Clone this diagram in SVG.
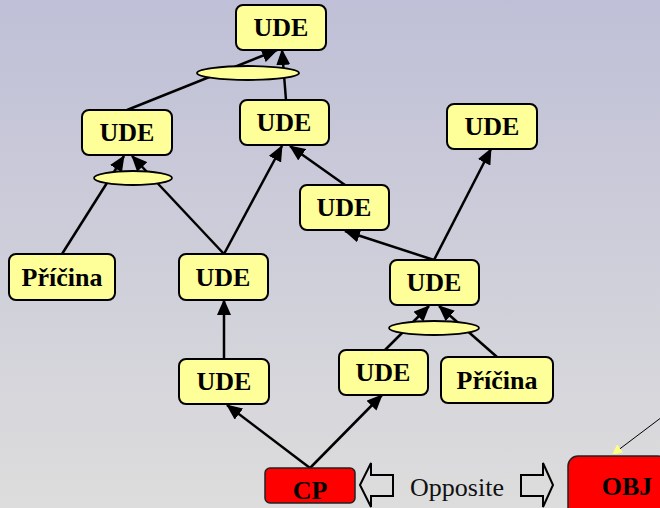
<svg xmlns="http://www.w3.org/2000/svg" width="660" height="508" viewBox="0 0 660 508">
<defs>
<linearGradient id="bg" x1="0" y1="0" x2="0" y2="1">
<stop offset="0" stop-color="#bfbfd7"/>
<stop offset="1" stop-color="#dddddd"/>
</linearGradient>
<marker id="ah" viewBox="0 0 16 14" markerWidth="16" markerHeight="14" refX="15" refY="7" orient="auto" markerUnits="userSpaceOnUse">
<path d="M0,0 L16,7 L0,14 z" fill="#000"/>
</marker>
<marker id="ay" viewBox="0 0 10 10" markerWidth="10" markerHeight="10" refX="9" refY="5" orient="auto" markerUnits="userSpaceOnUse">
<path d="M0,0 L10,5 L0,10 z" fill="#ffff80"/>
</marker>
<style>
.box{fill:#ffff99;stroke:#000;stroke-width:2}
.red{fill:#ff0000;stroke:#222;stroke-width:1.5}
.and{fill:#ffff99;stroke:#000;stroke-width:1.8}
.t{font-family:"Liberation Serif",serif;font-weight:bold;font-size:26px;text-anchor:middle;fill:#000}
.c{stroke:#000;stroke-width:2.5;fill:none;marker-end:url(#ah)}
.ha{fill:none;stroke:#000;stroke-width:2}
</style>
</defs>
<rect x="0" y="0" width="660" height="508" fill="url(#bg)"/>
<g id="connectors">
<line class="c" x1="127" y1="110" x2="277" y2="50"/>
<line class="c" x1="286" y1="100" x2="282" y2="50"/>
<line class="c" x1="62" y1="254" x2="124" y2="156"/>
<line class="c" x1="224" y1="254" x2="132" y2="156"/>
<line class="c" x1="224" y1="254" x2="282" y2="146"/>
<line class="c" x1="345" y1="185" x2="290" y2="146"/>
<line class="c" x1="434" y1="260" x2="345" y2="231"/>
<line class="c" x1="434" y1="260" x2="491" y2="149"/>
<line class="c" x1="385" y1="350" x2="429" y2="306"/>
<line class="c" x1="497" y1="357" x2="439" y2="306"/>
<line class="c" x1="224" y1="359" x2="224" y2="300"/>
<line class="c" x1="310" y1="468" x2="227" y2="405"/>
<line class="c" x1="310" y1="468" x2="382" y2="395"/>
<line x1="662" y1="417" x2="613" y2="454" stroke="#000" stroke-width="1" marker-end="url(#ay)"/>
</g>
<g id="and1"><ellipse class="and" cx="248" cy="73" rx="51" ry="7"/></g>
<g id="and2"><ellipse class="and" cx="133" cy="178" rx="39" ry="7"/></g>
<g id="and3"><ellipse class="and" cx="434" cy="328" rx="45" ry="7"/></g>
<g id="n1"><rect class="box" x="236" y="5" width="90" height="45" rx="7"/><text class="t" x="281" y="36">UDE</text></g>
<g id="n2"><rect class="box" x="82" y="110" width="90" height="45" rx="7"/><text class="t" x="127" y="141">UDE</text></g>
<g id="n3"><rect class="box" x="240" y="100" width="89" height="45" rx="7"/><text class="t" x="284" y="131">UDE</text></g>
<g id="n4"><rect class="box" x="447" y="104" width="90" height="45" rx="7"/><text class="t" x="492" y="135">UDE</text></g>
<g id="n5"><rect class="box" x="300" y="185" width="89" height="45" rx="7"/><text class="t" x="344" y="216">UDE</text></g>
<g id="n6"><rect class="box" x="390" y="260" width="89" height="45" rx="7"/><text class="t" x="434" y="291">UDE</text></g>
<g id="n7"><rect class="box" x="9" y="254" width="106" height="46" rx="7"/><text class="t" x="62" y="286">Příčina</text></g>
<g id="n8"><rect class="box" x="179" y="254" width="89" height="46" rx="7"/><text class="t" x="223" y="286">UDE</text></g>
<g id="n9"><rect class="box" x="179" y="359" width="90" height="45" rx="7"/><text class="t" x="224" y="390">UDE</text></g>
<g id="n10"><rect class="box" x="339" y="350" width="89" height="45" rx="7"/><text class="t" x="383" y="381">UDE</text></g>
<g id="n11"><rect class="box" x="441" y="357" width="112" height="46" rx="7"/><text class="t" x="497" y="389">Příčina</text></g>
<g id="cp"><rect class="red" x="265" y="468" width="90" height="35" rx="5"/><text class="t" x="310" y="499">CP</text></g>
<g id="obj"><rect class="red" x="568" y="456" width="100" height="62" rx="10"/><text class="t" x="627" y="495">OBJ</text></g>
<g id="opposite">
<polygon class="ha" points="360,485 371,463 371,475 393,475 393,496 371,496 371,507"/>
<text x="457" y="496" font-family="Liberation Serif, serif" font-size="26" text-anchor="middle" fill="#111">Opposite</text>
<polygon class="ha" points="521,475 543,475 543,463 553,485 543,507 543,496 521,496"/>
</g>
</svg>
